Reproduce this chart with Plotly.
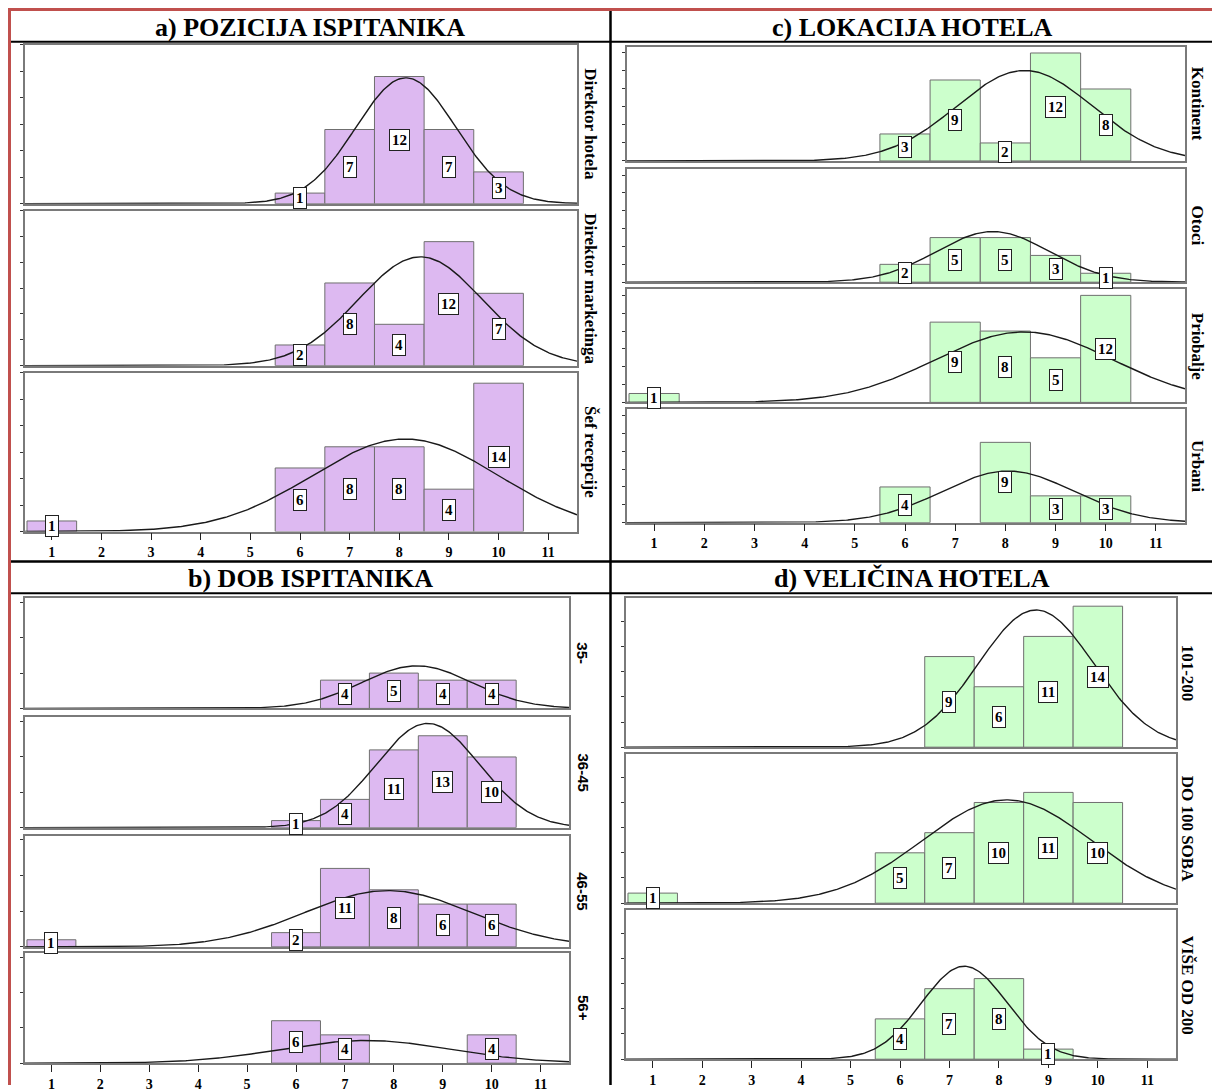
import numpy as np
import plotly.graph_objects as go

W, H = 1212, 1092

# ---------------- data ----------------
a_title = "a) POZICIJA ISPITANIKA"
a_groups = ["Direktor hotela", "Direktor marketinga", "Šef recepcije"]
a_x = [[6, 7, 8, 9, 10], [6, 7, 8, 9, 10], [1, 6, 7, 8, 9, 10]]
a_counts = [[1, 7, 12, 7, 3], [2, 8, 4, 12, 7], [1, 6, 8, 8, 4, 14]]

b_title = "b) DOB ISPITANIKA"
b_groups = ["35-", "36-45", "46-55", "56+"]
b_x = [[7, 8, 9, 10], [6, 7, 8, 9, 10], [1, 6, 7, 8, 9, 10], [6, 7, 10]]
b_counts = [[4, 5, 4, 4], [1, 4, 11, 13, 10], [1, 2, 11, 8, 6, 6], [6, 4, 4]]

c_title = "c) LOKACIJA HOTELA"
c_groups = ["Kontinent", "Otoci", "Priobalje", "Urbani"]
c_x = [[6, 7, 8, 9, 10], [6, 7, 8, 9, 10], [1, 7, 8, 9, 10], [6, 8, 9, 10]]
c_counts = [[3, 9, 2, 12, 8], [2, 5, 5, 3, 1], [1, 9, 8, 5, 12], [4, 9, 3, 3]]

d_title = "d) VELIČINA HOTELA"
d_groups = ["101-200", "DO 100 SOBA", "VIŠE OD 200"]
d_x = [[7, 8, 9, 10], [1, 6, 7, 8, 9, 10], [6, 7, 8, 9]]
d_counts = [[9, 6, 11, 14], [1, 5, 7, 10, 11, 10], [4, 7, 8, 1]]

tick_vals = list(range(1, 12))

# ---------------- layout spec (pixels) ----------------
PURPLE = "#DDB9F1"
GREEN = "#CCFFCC"
SERIF = "Liberation Serif"
SANS = "Liberation Sans"

quadrants = [
    dict(title=a_title, groups=a_groups, xs=a_x, cs=a_counts, color=PURPLE,
         px=(25, 577), panels=[(45, 205), (212, 368), (375, 535)], ymax=15.0, dtick=2.5,
         lab_x=591, lab_font=SERIF, lab_size=17, title_xy=(310, 28)),
    dict(title=b_title, groups=b_groups, xs=b_x, cs=b_counts, color=PURPLE,
         px=(25, 569), panels=[(602, 713), (722, 833), (841, 953), (959, 1070)], ymax=15.6, dtick=5,
         lab_x=583, lab_font=SANS, lab_size=15, title_xy=(310, 582)),
    dict(title=c_title, groups=c_groups, xs=c_x, cs=c_counts, color=GREEN,
         px=(627, 1185), panels=[(47, 162), (170, 284), (291, 405), (412, 526)], ymax=12.7, dtick=2,
         lab_x=1197, lab_font=SERIF, lab_size=17, title_xy=(912, 28)),
    dict(title=d_title, groups=d_groups, xs=d_x, cs=d_counts, color=GREEN,
         px=(626, 1176), panels=[(602, 752), (759, 909), (916, 1066)], ymax=14.8, dtick=2.5,
         lab_x=1187, lab_font=SERIF, lab_size=17, title_xy=(912, 582)),
]

XMIN, XMAX = 0.46, 11.58


def fx(p):
    return p / W


def fy(p):
    return 1 - p / H


fig = go.Figure()
layout = dict(width=W, height=H, margin=dict(l=0, r=0, t=0, b=0),
              paper_bgcolor="white", plot_bgcolor="white", showlegend=False,
              barmode="overlay")
annotations = []
shapes = []

k = 0
for q in quadrants:
    n = len(q["panels"])
    for i, (y0, y1) in enumerate(q["panels"]):
        k += 1
        xa = "x" if k == 1 else f"x{k}"
        ya = "y" if k == 1 else f"y{k}"
        xs = q["xs"][i]
        cs = q["cs"][i]
        fig.add_trace(go.Bar(x=xs, y=cs, width=1, xaxis=xa, yaxis=ya,
                             marker=dict(color=q["color"], line=dict(color="#6f6f6f", width=1)),
                             hoverinfo="skip"))
        vals = np.repeat(np.array(xs, dtype=float), cs)
        N = len(vals)
        mu = vals.mean()
        sd = vals.std(ddof=1)
        gx = np.linspace(XMIN, XMAX, 400)
        gy = N * np.exp(-0.5 * ((gx - mu) / sd) ** 2) / (sd * np.sqrt(2 * np.pi))
        fig.add_trace(go.Scatter(x=gx, y=gy, mode="lines", xaxis=xa, yaxis=ya,
                                 line=dict(color="#1a1a1a", width=1.4), hoverinfo="skip",
                                 cliponaxis=True))
        bottom = (i == n - 1)
        layout["xaxis" if k == 1 else f"xaxis{k}"] = dict(
            domain=[fx(q["px"][0]), fx(q["px"][1])], range=[XMIN, XMAX], anchor=ya,
            tickvals=tick_vals, showticklabels=bottom, ticks="outside" if bottom else "",
            ticklen=7, tickwidth=1.2, tickcolor="#222",
            tickfont=dict(family=SERIF, size=14, color="black", weight="bold"),
            showline=True, mirror=True, linecolor="#7a7a7a", linewidth=1.5,
            showgrid=False, zeroline=False, fixedrange=True)
        layout["yaxis" if k == 1 else f"yaxis{k}"] = dict(
            domain=[fy(y1), fy(y0)], range=[0, q["ymax"]], anchor=xa,
            dtick=q["dtick"], tick0=0, ticks="outside", ticklen=3, tickcolor="#333",
            showticklabels=False, showline=True, mirror=True, linecolor="#7a7a7a",
            linewidth=1.5, showgrid=False, zeroline=False, fixedrange=True)
        # count labels
        for xv, c in zip(xs, cs):
            annotations.append(dict(x=xv, y=c / 2, xref=xa, yref=ya, text=f"<b>{c}</b>",
                                    showarrow=False, font=dict(family=SERIF, size=15, color="black"),
                                    bgcolor="white", bordercolor="#222", borderwidth=1, borderpad=2))
        # group label on right
        annotations.append(dict(x=fx(q["lab_x"]), y=fy((y0 + y1) / 2), xref="paper", yref="paper",
                                text=f"<b>{q['groups'][i]}</b>", textangle=90, showarrow=False,
                                font=dict(family=q["lab_font"], size=q["lab_size"], color="black"),
                                xanchor="center", yanchor="middle"))
    tx, ty = q["title_xy"]
    annotations.append(dict(x=fx(tx), y=fy(ty), xref="paper", yref="paper",
                            text=f"<b>{q['title']}</b>", showarrow=False,
                            font=dict(family=SERIF, size=26, color="black"),
                            xanchor="center", yanchor="middle"))

RED = "#C0504D"


def pline(x0, y0, x1, y1, color, w):
    shapes.append(dict(type="line", xref="paper", yref="paper", x0=fx(x0), y0=fy(y0),
                       x1=fx(x1), y1=fy(y1), line=dict(color=color, width=w), layer="above"))


pline(8, 9.5, W, 9.5, RED, 3)
pline(9.5, 8, 9.5, H, RED, 3)
pline(11, 42, W, 42, "black", 2)
pline(11, 565, W, 565, "black", 2.5)
pline(11, 597, W, 597, "black", 2)
pline(610.5, 11, 610.5, H, "black", 2.5)

layout["annotations"] = annotations
layout["shapes"] = shapes
fig.update_layout(**layout)
fig.write_html("out.html", config={"displayModeBar": False},
               post_script="document.body.style.margin='0';document.body.style.overflow='hidden';")
